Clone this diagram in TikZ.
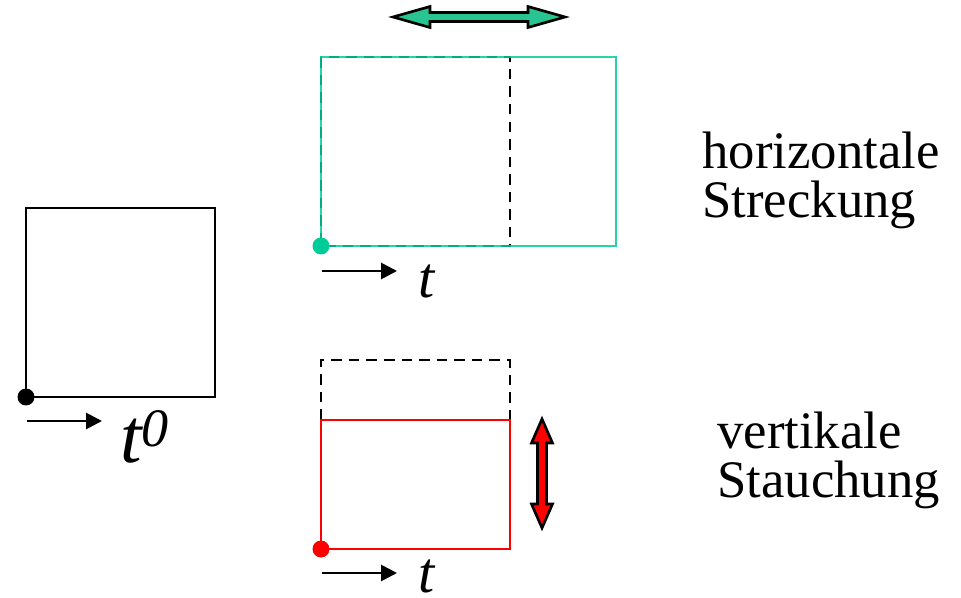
\documentclass[tikz,border=0pt]{standalone}
\usepackage{fontspec}
\setmainfont{Liberation Serif}
\usetikzlibrary{arrows.meta}
\definecolor{stretchgreen}{RGB}{0,204,153}
\definecolor{arrowgreen}{RGB}{40,196,145}
\begin{document}
\begin{tikzpicture}[
x=0.02cm, y=-0.02cm,
frame/.style={line width=1.5pt},
oldframe/.style={line width=1.5pt, dashed, dash pattern=on 6pt off 4pt},
dotnode/.style={circle, fill, inner sep=0pt, minimum size=0.34cm},
dirarrow/.style={line width=1.6pt, -{Triangle[length=0.32cm, width=0.32cm]}},
tlabel/.style={inner sep=0pt, anchor=base west, font=\fontsize{33}{33}\selectfont\itshape},
textlabel/.style={inner sep=0pt, anchor=base west, align=left, font=\fontsize{30}{27.5}\selectfont},
blockarrow/.style={line width=1.5pt, draw=black, line join=miter},
]
\useasboundingbox (0,0) rectangle (961,598);

%Nodes
\draw[frame, line width=1.7pt] (26,208) rectangle (215,397);
\node[dotnode] (dot0) at (26,397) {};
\coordinate (a0s) at (27,421);
\coordinate (a0e) at (102,421);
\node[tlabel, font=\fontsize{44}{44}\selectfont\itshape] (t0) at (120,462) {t\textsuperscript{0}};

% horizontal stretching
\draw[oldframe] (321,57) rectangle (510,246);
\draw[frame, stretchgreen, opacity=0.85] (321,57) rectangle (616,246);
\node[dotnode, stretchgreen] (dot1) at (321,246) {};
\coordinate (a1s) at (322,271);
\coordinate (a1e) at (397,271);
\node[tlabel] (t1) at (418,297) {t};
\draw[blockarrow, fill=arrowgreen] (393,17) -- (430,6.5) -- (430,12.5) -- (528,12.5) -- (528,6.5)
  -- (565,17) -- (528,27.5) -- (528,21.5) -- (430,21.5) -- (430,27.5) -- cycle;
\node[textlabel] (hs) at (702,217) {horizontale\\Streckung};

% vertical compression
\draw[oldframe] (321,420) -- (321,360) -- (510,360) -- (510,420);
\draw[frame, red] (321,420) rectangle (510,549);
\node[dotnode, red] (dot2) at (321,549) {};
\coordinate (a2s) at (322,573);
\coordinate (a2e) at (397,573);
\node[tlabel] (t2) at (418,592) {t};
\draw[blockarrow, fill=red] (542,419) -- (552.5,443) -- (546.5,443) -- (546.5,504) -- (552.5,504)
  -- (542,528) -- (531.5,504) -- (537.5,504) -- (537.5,443) -- (531.5,443) -- cycle;
\node[textlabel] (vs) at (717,497) {vertikale\\Stauchung};

\draw[dirarrow] (a0s) -- (a0e);
\draw[dirarrow] (a1s) -- (a1e);
\draw[dirarrow] (a2s) -- (a2e);
\end{tikzpicture}
\end{document}
